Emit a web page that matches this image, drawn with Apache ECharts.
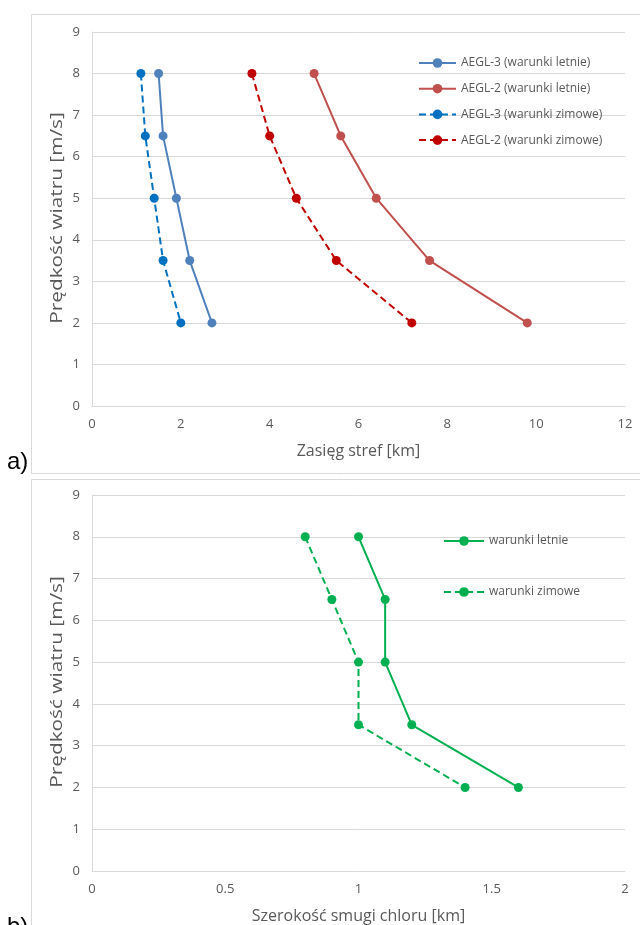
<!DOCTYPE html>
<html><head><meta charset="utf-8">
<script src="https://cdn.jsdelivr.net/npm/echarts@6/dist/echarts.min.js"></script>
<style>html,body{margin:0;padding:0;background:#fff}#c{width:640px;height:925px}</style>
</head><body><div id="c"></div>
<script>
var windSpeeds = [8, 6.5, 5, 3.5, 2];
var aegl3Summer = [1.5, 1.6, 1.9, 2.2, 2.7];
var aegl2Summer = [5.0, 5.6, 6.4, 7.6, 9.8];
var aegl3Winter = [1.1, 1.2, 1.4, 1.6, 2.0];
var aegl2Winter = [3.6, 4.0, 4.6, 5.5, 7.2];
var plumeSummer = [1.0, 1.1, 1.1, 1.2, 1.6];
var plumeWinter = [0.8, 0.9, 1.0, 1.0, 1.4];
var namesTop = ['AEGL-3 (warunki letnie)', 'AEGL-2 (warunki letnie)', 'AEGL-3 (warunki zimowe)', 'AEGL-2 (warunki zimowe)'];
var namesBottom = ['warunki letnie', 'warunki zimowe'];
var xTitleTop = 'Zasięg stref [km]';
var xTitleBottom = 'Szerokość smugi chloru [km]';
var yTitle = 'Prędkość wiatru [m/s]';

function pairs(xs) { return xs.map(function (x, i) { return [x, windSpeeds[i]]; }); }
var FONT = '"Open Sans", sans-serif';
var TXT = '#595959';
function mk(name, xs, color, dashed, idx) {
  return {
    name: name, type: 'line', xAxisIndex: idx, yAxisIndex: idx,
    data: pairs(xs), symbol: 'circle', symbolSize: 9,
    itemStyle: { color: color },
    lineStyle: { color: color, width: 2, type: dashed ? [7, 4] : 'solid' },
    emphasis: { disabled: true }
  };
}
function xAx(idx, max, interval, title) {
  return {
    gridIndex: idx, type: 'value', min: 0, max: max, interval: interval,
    axisLine: { show: true, lineStyle: { color: '#D9D9D9' } }, axisTick: { show: false },
    splitLine: { show: false },
    axisLabel: { color: TXT, fontFamily: FONT, fontSize: 13, margin: 12 },
    name: title, nameLocation: 'middle', nameGap: 37,
    nameTextStyle: { color: TXT, fontFamily: FONT, fontSize: 16 }
  };
}
function yAx(idx) {
  return {
    gridIndex: idx, type: 'value', min: 0, max: 9, interval: 1,
    axisLine: { show: true, lineStyle: { color: '#D9D9D9' } }, axisTick: { show: false },
    splitLine: { show: true, lineStyle: { color: '#D9D9D9' } },
    axisLabel: { color: TXT, fontFamily: FONT, fontSize: 13, margin: 12 }
  };
}
function yTitleEl(cy) {
  return { type: 'text', x: 57, y: cy, rotation: Math.PI / 2, scaleX: 1.3, scaleY: 1,
    style: { text: yTitle, font: '16px "Open Sans", sans-serif', fill: TXT, textAlign: 'center', textVerticalAlign: 'middle' } };
}
var chart = echarts.init(document.getElementById('c'), null, { renderer: 'canvas' });
chart.setOption({
  animation: false,
  backgroundColor: '#fff',
  grid: [
    { left: 92, top: 32, width: 533, height: 374 },
    { left: 92, top: 495, width: 533, height: 376 }
  ],
  xAxis: [xAx(0, 12, 2, xTitleTop), xAx(1, 2, 0.5, xTitleBottom)],
  yAxis: [yAx(0), yAx(1)],
  legend: [
    { data: namesTop, orient: 'vertical', left: 418, top: 57, padding: 0, itemWidth: 37, itemHeight: 12, itemGap: 13.7,
      textStyle: { color: TXT, fontFamily: FONT, fontSize: 12 } },
    { data: namesBottom, orient: 'vertical', left: 443, top: 535, padding: 0, itemWidth: 40, itemHeight: 12, itemGap: 39,
      textStyle: { color: TXT, fontFamily: FONT, fontSize: 12 } }
  ],
  graphic: [
    { type: 'rect', shape: { x: 31.5, y: 14.5, width: 640, height: 459 }, style: { fill: null, stroke: '#D9D9D9', lineWidth: 1 }, z: -1 },
    { type: 'rect', shape: { x: 31.5, y: 479.5, width: 640, height: 470 }, style: { fill: null, stroke: '#D9D9D9', lineWidth: 1 }, z: -1 },
    yTitleEl(218),
    yTitleEl(682),
    { type: 'text', left: 7, top: 450, style: { text: 'a)', font: '24px "Liberation Sans Narrow", "Liberation Sans", sans-serif', fill: '#000' } },
    { type: 'text', left: 7, top: 915, style: { text: 'b)', font: '24px "Liberation Sans Narrow", "Liberation Sans", sans-serif', fill: '#000' } }
  ],
  series: [
    mk(namesTop[0], aegl3Summer, '#4F81BD', false, 0),
    mk(namesTop[1], aegl2Summer, '#C0504D', false, 0),
    mk(namesTop[2], aegl3Winter, '#0070C0', true, 0),
    mk(namesTop[3], aegl2Winter, '#C00000', true, 0),
    mk(namesBottom[0], plumeSummer, '#00B050', false, 1),
    mk(namesBottom[1], plumeWinter, '#00B050', true, 1)
  ]
});
</script></body></html>
